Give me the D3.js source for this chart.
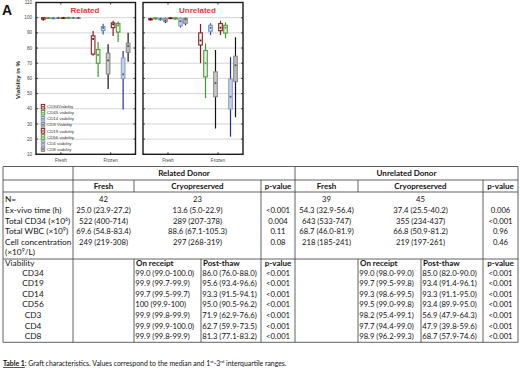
<!DOCTYPE html>
<html><head><meta charset="utf-8">
<script src="https://cdn.jsdelivr.net/npm/d3@7/dist/d3.min.js"></script>
<style>
html,body{margin:0;padding:0;background:#fff;}
svg{display:block;}
</style></head><body>
<svg id="c" width="520" height="368"></svg>
<script>
// ---------------- DATA ----------------
const panels = ["Related", "Unrelated"];
const conditions = ["Fresh", "Frozen"];
const markers = ["CD34Viability", "CD45 viability", "CD14 viability", "CD3 Viability",
                 "CD19 viability", "CD56 viability", "CD4 viability", "CD8 viability"];
const yTicks = [10, 20, 30, 40, 50, 60, 70, 80, 90, 100, 110];

// box stats per marker: [min, q1, median, q3, max]
const relatedFresh = [
  [98.0, 99.0, 99.0, 100, 100], [99.3, 99.6, 99.8, 99.9, 100], [99.2, 99.5, 99.7, 99.7, 99.9],
  [99.6, 99.8, 99.9, 99.9, 100], [99.4, 99.7, 99.9, 99.9, 100], [99.7, 99.9, 100, 100, 100],
  [99.7, 99.9, 99.9, 100, 100], [99.6, 99.8, 99.9, 99.9, 100]
];
const relatedFrozen = [
  [75.0, 76.0, 86.0, 88.0, 91.2], [61.0, 70.0, 75.5, 79.0, 84.0], [89.0, 91.5, 93.3, 94.1, 96.0],
  [53.0, 62.9, 71.9, 76.6, 82.5], [88.0, 93.4, 95.6, 96.6, 98.0], [84.0, 90.5, 95.0, 96.2, 97.5],
  [39.5, 59.9, 62.7, 73.5, 78.0], [71.0, 77.1, 81.3, 83.2, 90.0]
];
const unrelatedFresh = [
  [98.0, 98.6, 99.0, 99.3, 100], [98.8, 99.2, 99.5, 99.8, 100], [98.0, 98.6, 99.3, 99.5, 100],
  [96.5, 97.4, 98.2, 99.6, 100], [99.0, 99.5, 99.7, 99.8, 100], [98.8, 99.2, 99.5, 99.8, 100],
  [93.5, 94.7, 97.7, 99.5, 100], [95.0, 96.3, 98.9, 99.6, 100]
];
const unrelatedFrozen = [
  [70.0, 82.0, 85.0, 90.0, 95.8], [47.0, 61.0, 70.0, 78.3, 83.0], [88.6, 91.1, 93.3, 95.0, 96.3],
  [27.0, 47.9, 56.9, 64.3, 78.7], [88.6, 91.4, 93.4, 96.1, 98.0], [86.4, 89.9, 93.4, 95.0, 97.0],
  [21.6, 39.8, 47.9, 59.6, 73.9], [34.4, 57.9, 68.7, 74.6, 87.1]
];

// table
const donorHeaders = ["Related Donor", "Unrelated Donor"];
const subHeaders = ["Fresh", "Cryopreserved", "p-value"];
const rowLabels = ["N=", "Ex-vivo time (h)", "Total CD34 (×10|6|)", "Total WBC (×10|9|)", "Cell concentration"];
const relFreshCol = ["42", "25.0 (23.9-27.2)", "522 (400-714)", "69.6 (54.8-83.4)", "249 (219-308)"];
const relCryoCol = ["23", "13.6 (5.0-22.9)", "289 (207-378)", "88.6 (67.1-105.3)", "297 (268-319)"];
const relPCol = ["", "<0.001", "0.004", "0.11", "0.08"];
const unrFreshCol = ["39", "54.3 (32.9-56.4)", "643 (533-747)", "68.7 (46.0-81.9)", "218 (185-241)"];
const unrCryoCol = ["45", "37.4 (25.5-40.2)", "355 (234-437)", "66.8 (50.9-81.2)", "219 (197-261)"];
const unrPCol = ["", "0.006", "<0.001", "0.96", "0.46"];
const viabHeaders = ["On receipt", "Post-thaw", "p-value"];
const viabMarkers = ["CD34", "CD19", "CD14", "CD56", "CD3", "CD4", "CD8"];
const relReceipt = ["99.0 (99.0-100.0)", "99.9 (99.7-99.9)", "99.7 (99.5-99.7)", "100 (99.9-100)", "99.9 (99.8-99.9)", "99.9 (99.9-100.0)", "99.9 (99.8-99.9)"];
const relThaw = ["86.0 (76.0-88.0)", "95.6 (93.4-96.6)", "93.3 (91.5-94.1)", "95.0 (90.5-96.2)", "71.9 (62.9-76.6)", "62.7 (59.9-73.5)", "81.3 (77.1-83.2)"];
const relViabP = ["<0.001", "<0.001", "<0.001", "<0.001", "<0.001", "<0.001", "<0.001"];
const unrReceipt = ["99.0 (98.0-99.0)", "99.7 (99.5-99.8)", "99.3 (98.6-99.5)", "99.5 (99.0-99.8)", "98.2 (95.4-99.1)", "97.7 (94.4-99.0)", "98.9 (96.2-99.3)"];
const unrThaw = ["85.0 (82.0-90.0)", "93.4 (91.4-96.1)", "93.3 (91.1-95.0)", "93.4 (89.9-95.0)", "56.9 (47.9-64.3)", "47.9 (39.8-59.6)", "68.7 (57.9-74.6)"];
const unrViabP = ["<0.001", "<0.001", "<0.001", "<0.001", "<0.001", "<0.001", "<0.001"];

// ---------------- STYLES ----------------
const seriesStyle = [
  {stroke: "#8b1c1c", fill: "#ffffff", whisker: "#8b1c1c", med: "#6a1010"},
  {stroke: "#4f9a3c", fill: "#eaf5e2", whisker: "#3e9a2c", med: "#4f9a3c"},
  {stroke: "#7090c8", fill: "#dbe6f5", whisker: "#3050b0", med: "#4060a0"},
  {stroke: "#8a8a8a", fill: "#cacaca", whisker: "#141414", med: "#555"},
  {stroke: "#8b1c1c", fill: "#ffffff", whisker: "#8b1c1c", med: "#6a1010"},
  {stroke: "#4f9a3c", fill: "#eaf5e2", whisker: "#3e9a2c", med: "#4f9a3c"},
  {stroke: "#8aa0c8", fill: "#c4d2ea", whisker: "#2a2aa0", med: "#506090"},
  {stroke: "#8a8a8a", fill: "#bcbcbc", whisker: "#141414", med: "#555"}
];
const chartFont = "'Liberation Sans', Arial, sans-serif";
const tableFont = "Lato, 'Open Sans', sans-serif";
const FS = 8.3;      // table label font size
const VS = 7.7;      // table value font size
const HS = 8.0;      // header font size
const SUP = 5.2, SUPDY = 3;

const svg = d3.select("#c");

// ---------------- CHARTS ----------------
const panelRanges = [[36, 135.5], [143, 243]];
const y = d3.scaleLinear().domain([10, 110]).range([154.3, 2.5]);
const offset = d3.scaleBand().domain(markers).range([-20, 20]);
const panelData = [[relatedFresh, relatedFrozen], [unrelatedFresh, unrelatedFrozen]];

panels.forEach((pname, pi) => {
  const [x0, x1] = panelRanges[pi];
  const x = d3.scalePoint().domain(conditions).range([x0, x1]).padding(0.5);
  const g = svg.append("g");
  g.selectAll("line.grid").data(yTicks.slice(1, -1)).join("line")
    .attr("x1", x0).attr("x2", x1).attr("y1", d => y(d)).attr("y2", d => y(d))
    .attr("stroke", "#c9c9c9").attr("stroke-width", 0.8);
  yTicks.forEach(t => {
    g.append("line").attr("x1", x0).attr("x2", x0 + 2).attr("y1", y(t)).attr("y2", y(t)).attr("stroke", "#222").attr("stroke-width", 0.8);
    g.append("line").attr("x1", x1 - 2).attr("x2", x1).attr("y1", y(t)).attr("y2", y(t)).attr("stroke", "#222").attr("stroke-width", 0.8);
  });
  conditions.forEach(c => {
    g.append("line").attr("x1", x(c)).attr("x2", x(c)).attr("y1", y(10)).attr("y2", y(10) - 2).attr("stroke", "#222").attr("stroke-width", 0.9);
    g.append("line").attr("x1", x(c)).attr("x2", x(c)).attr("y1", y(110)).attr("y2", y(110) + 2).attr("stroke", "#222").attr("stroke-width", 0.9);
  });
  g.selectAll("text.xl").data(conditions).join("text")
    .attr("x", d => x(d)).attr("y", 161.5).attr("text-anchor", "middle")
    .attr("font-family", chartFont).attr("font-size", 4.6).attr("fill", "#444").text(d => d);
  if (pi === 0) {
    g.selectAll("text.yl").data(yTicks).join("text")
      .attr("x", x0 - 4).attr("y", d => y(d) + 1.6).attr("text-anchor", "end")
      .attr("font-family", chartFont).attr("font-size", 4.6).attr("fill", "#444").text(d => d);
  }
  conditions.forEach((c, ci) => {
    const stats = panelData[pi][ci];
    stats.forEach((s, mi) => {
      const st = seriesStyle[mi];
      const cx = x(c) + offset(markers[mi]) + offset.bandwidth() / 2;
      const bw = 3.6;
      g.append("line").attr("x1", cx).attr("x2", cx).attr("y1", y(s[0])).attr("y2", y(s[4]))
        .attr("stroke", st.whisker).attr("stroke-width", 1.2);
      g.append("rect").attr("x", cx - bw / 2).attr("width", bw)
        .attr("y", y(s[3])).attr("height", Math.max(0.6, y(s[1]) - y(s[3])))
        .attr("fill", st.fill).attr("stroke", st.stroke).attr("stroke-width", 1.1);
      g.append("rect").attr("x", cx - 0.9).attr("width", 1.8).attr("y", y(s[2]) - 0.9).attr("height", 1.8)
        .attr("fill", st.med);
    });
  });
  g.append("rect").attr("x", x0).attr("y", y(110)).attr("width", x1 - x0).attr("height", y(10) - y(110))
    .attr("fill", "none").attr("stroke", "#1a1a1a").attr("stroke-width", 1.4);
  g.append("text").attr("x", pi === 0 ? 85 : 197.5).attr("y", 13).attr("text-anchor", "middle")
    .attr("font-family", chartFont).attr("font-weight", "bold").attr("font-size", 8)
    .attr("fill", "#e03a3a").text(pname);
});

// legend
const leg = svg.append("g");
markers.forEach((m, i) => {
  const st = seriesStyle[i];
  const ly = 106.7 + i * 6.05;
  leg.append("rect").attr("x", 41.3).attr("y", ly - 2.3).attr("width", 3.4).attr("height", 4.6)
    .attr("fill", st.fill).attr("stroke", st.stroke).attr("stroke-width", 1);
  leg.append("rect").attr("x", 42.3).attr("y", ly - 0.7).attr("width", 1.4).attr("height", 1.4).attr("fill", st.med);
  leg.append("text").attr("x", 47).attr("y", ly + 1.6).attr("font-family", chartFont)
    .attr("font-size", 4.4).attr("fill", "#333").text(m);
});

svg.append("text").attr("transform", "translate(20,80) rotate(-90)").attr("text-anchor", "middle")
  .attr("font-family", chartFont).attr("font-weight", "bold").attr("font-size", 6.2).attr("fill", "#222")
  .text("Viability in %");
svg.append("text").attr("x", 2).attr("y", 15).attr("font-family", chartFont).attr("font-weight", "bold")
  .attr("font-size", 14).attr("fill", "#111").text("A");

// ---------------- TABLE ----------------
const T = svg.append("g").attr("font-family", tableFont).attr("font-size", FS).attr("fill", "#111");
const cx = {L: 3, a: 73, b: 134, c: 201, d: 261, e: 295, f: 358, g: 421, h: 483, R: 518};
const ry = {top: 166.5, r1: 180, r2: 192, v: 259, bot: 342.3};
const lineC = "#3a3a3a", lw = 0.8;
function hl(x1, x2, yy) { T.append("line").attr("x1", x1).attr("x2", x2).attr("y1", yy).attr("y2", yy).attr("stroke", lineC).attr("stroke-width", lw); }
function vl(xx, y1, y2) { T.append("line").attr("x1", xx).attr("x2", xx).attr("y1", y1).attr("y2", y2).attr("stroke", lineC).attr("stroke-width", lw); }
hl(cx.L, cx.R, ry.top); hl(cx.L, cx.R, ry.r1); hl(cx.L, cx.R, ry.r2); hl(cx.L, cx.R, ry.v); hl(cx.L, cx.R, ry.bot);
[cx.L, cx.a, cx.e, cx.R].forEach(xx => vl(xx, ry.top, ry.r1));
[cx.L, cx.a, cx.b, cx.d, cx.e, cx.f, cx.h, cx.R].forEach(xx => vl(xx, ry.r1, ry.r2));
[cx.L, cx.a, cx.d, cx.e, cx.h, cx.R].forEach(xx => vl(xx, ry.r2, ry.v));
[cx.L, cx.a, cx.b, cx.c, cx.d, cx.e, cx.f, cx.g, cx.h, cx.R].forEach(xx => vl(xx, ry.v, ry.bot));

function txt(x, yy, s, anchor, bold, size) {
  const t = T.append("text").attr("x", x).attr("y", yy).attr("text-anchor", anchor || "start");
  if (bold) t.attr("font-weight", "bold");
  if (size) t.attr("font-size", size);
  const parts = s.split("|");
  parts.forEach((p, i) => {
    if (i % 2 === 1) t.append("tspan").attr("dy", -SUPDY).attr("font-size", SUP).text(p);
    else t.append("tspan").attr("dy", i > 0 ? SUPDY : 0).text(p);
  });
  return t;
}
txt((cx.a + cx.e) / 2, 176.3, donorHeaders[0], "middle", true, HS);
txt((cx.e + cx.R) / 2, 176.3, donorHeaders[1], "middle", true, HS);
[[cx.a, cx.b], [cx.b, cx.d], [cx.d, cx.e], [cx.e, cx.f], [cx.f, cx.h], [cx.h, cx.R]].forEach((r, i) =>
  txt((r[0] + r[1]) / 2, 189, subHeaders[i % 3], "middle", true, HS));
const rowY = [201.5, 213, 223.6, 234.2, 244.7];
rowLabels.forEach((l, i) => {
  txt(5, rowY[i], l, "start");
  txt((cx.a + cx.b) / 2, rowY[i], relFreshCol[i], "middle", false, VS);
  txt((cx.b + cx.d) / 2, rowY[i], relCryoCol[i], "middle", false, VS);
  txt((cx.d + cx.e) / 2, rowY[i], relPCol[i], "middle", false, VS);
  txt((cx.e + cx.f) / 2, rowY[i], unrFreshCol[i], "middle", false, VS);
  txt((cx.f + cx.h) / 2, rowY[i], unrCryoCol[i], "middle", false, VS);
  txt((cx.h + cx.R) / 2, rowY[i], unrPCol[i], "middle", false, VS);
});
txt(5, 255.3, "(×10|9|/L)", "start");
const vhY = 265.9;
txt(5, vhY, "Viability", "start");
txt(cx.b + 2, vhY, viabHeaders[0], "start", true, HS);
txt(cx.c + 2, vhY, viabHeaders[1], "start", true, HS);
txt((cx.d + cx.e) / 2, vhY, viabHeaders[2], "middle", true, HS);
txt(cx.f + 2, vhY, viabHeaders[0], "start", true, HS);
txt(cx.g + 2, vhY, viabHeaders[1], "start", true, HS);
txt((cx.h + cx.R) / 2, vhY, viabHeaders[2], "middle", true, HS);
viabMarkers.forEach((m, i) => {
  const yy = 275.6 + i * 10.6;
  txt(33, yy, m, "middle");
  txt(cx.b + 1.2, yy, relReceipt[i], "start", false, VS);
  txt(cx.c + 1.2, yy, relThaw[i], "start", false, VS);
  txt((cx.d + cx.e) / 2, yy, relViabP[i], "middle", false, VS);
  txt(cx.f + 1.2, yy, unrReceipt[i], "start", false, VS);
  txt(cx.g + 1.2, yy, unrThaw[i], "start", false, VS);
  txt((cx.h + cx.R) / 2, yy, unrViabP[i], "middle", false, VS);
});
// caption
const cap = T.append("text").attr("x", 3).attr("y", 366).attr("font-size", 6.9);
cap.append("tspan").attr("font-weight", "bold").attr("text-decoration", "underline").text("Table 1");
cap.append("tspan").text(": Graft characteristics. Values correspond to the median and 1");
cap.append("tspan").attr("dy", -2.6).attr("font-size", 4.5).text("st");
cap.append("tspan").attr("dy", 2.6).text("-3");
cap.append("tspan").attr("dy", -2.6).attr("font-size", 4.5).text("rd");
cap.append("tspan").attr("dy", 2.6).text(" interquartile ranges.");
</script>
</body></html>
